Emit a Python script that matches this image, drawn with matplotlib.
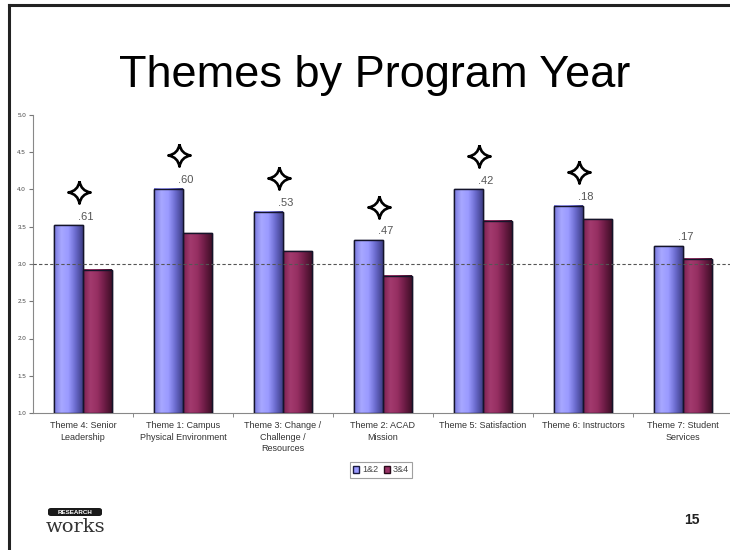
import numpy as np
import matplotlib
matplotlib.use('Agg')
import matplotlib.pyplot as plt
from matplotlib.path import Path
from matplotlib.patches import FancyBboxPatch
from matplotlib.colors import LinearSegmentedColormap

plt.rcParams['font.family'] = ['Liberation Sans', 'DejaVu Sans']

# data
themes = ['Theme 4: Senior\nLeadership', 'Theme 1: Campus\nPhysical Environment',
          'Theme 3: Change /\nChallenge /\nResources', 'Theme 2: ACAD\nMission',
          'Theme 5: Satisfaction', 'Theme 6: Instructors', 'Theme 7: Student\nServices']
year_12 = [3.52, 4.01, 3.70, 3.32, 4.00, 3.78, 3.24]
year_34 = [2.92, 3.41, 3.17, 2.84, 3.58, 3.60, 3.07]
effect = ['.61', '.60', '.53', '.47', '.42', '.18', '.17']
significant = [True, True, True, True, True, True, False]
series_names = ['1&2', '3&4']
yticks = [1.0, 1.5, 2.0, 2.5, 3.0, 3.5, 4.0, 4.5, 5.0]

W, H = 730, 550
fig = plt.figure(figsize=(W / 100, H / 100), dpi=100)

# slide frame (top and left edges)
fig.add_artist(plt.Line2D([9 / W, 1], [1 - 5 / H, 1 - 5 / H], color='#222222', lw=2.2))
fig.add_artist(plt.Line2D([9 / W, 9 / W], [0, 1 - 5 / H], color='#222222', lw=2.2))

fig.text(375 / W, 1 - 75 / H, 'Themes by Program Year', ha='center', va='center',
         fontsize=32.5, color='black')

ax = fig.add_axes([33 / W, (H - 413) / H, 697 / W, 298 / H])
x = np.arange(len(themes))
bw = 0.29
b1 = ax.bar(x - bw / 2, year_12, bw, bottom=0, color='#9999ff', edgecolor='#1a1a40', lw=1, zorder=3)
b2 = ax.bar(x + bw / 2, year_34, bw, bottom=0, color='#993366', edgecolor='#2a0a1a', lw=1, zorder=3)

# shaded "cylinder" look like the old Excel fills
cm_blue = LinearSegmentedColormap.from_list('b', ['#7777dd', '#a8a8ff', '#9a9aff', '#6a6acc', '#3f3f88'])
cm_red = LinearSegmentedColormap.from_list('r', ['#7a2050', '#a33a6e', '#962f62', '#6e1c46', '#401028'])
grad = np.linspace(0, 1, 64).reshape(1, -1)
for bars, cm in ((b1, cm_blue), (b2, cm_red)):
    for p in bars:
        x0, w, h = p.get_x(), p.get_width(), p.get_height()
        ax.imshow(grad, cmap=cm, aspect='auto', extent=(x0, x0 + w, 1.0, h), zorder=3.5)
        ax.add_patch(plt.Rectangle((x0, 1.0), w, h - 1.0, fill=False, ec='#14142a', lw=1, zorder=4))

ax.axhline(3.0, color='#555555', lw=0.8, ls=(0, (3, 2)), zorder=5)

# four pointed star marker
verts = [(0, 1), (0.14, 0.14), (1, 0), (0.14, -0.14), (0, -1), (-0.14, -0.14), (-1, 0), (-0.14, 0.14), (0, 1)]
codes = [Path.MOVETO] + [Path.CURVE3, Path.CURVE3] * 4
star = Path(verts, codes)

for i, (v, lab, sig) in enumerate(zip(year_12, effect, significant)):
    ax.text(x[i] - bw / 2 + 0.17, v + 0.05, lab, ha='center', va='bottom', fontsize=8, color='#555555', zorder=6)
    if sig:
        ax.plot(x[i] - bw / 2 + 0.1, v + 0.45, marker=star, ms=16, mfc='white', mec='black', mew=1.9, zorder=6)

ax.set_xlim(-0.5, 6.47)
ax.set_ylim(1.0, 5.0)
ax.set_yticks(yticks)
ax.set_yticklabels([f'{t:.1f}' for t in yticks], fontsize=4.5, color='#444444')
ax.set_xticks(x)
ax.set_xticklabels(themes, fontsize=6.5, color='#333333', linespacing=1.35)
ax.set_xticks(np.arange(0.5, len(themes) - 1, 1), minor=True)
ax.tick_params(axis='x', which='major', length=0, pad=6)
ax.tick_params(axis='x', which='minor', length=3, color='#777777')
ax.tick_params(axis='y', length=3, color='#777777', pad=2)
for s in ('top', 'right'):
    ax.spines[s].set_visible(False)
ax.spines['left'].set_color('#888888')
ax.spines['bottom'].set_color('#888888')

leg = ax.legend([b1, b2], series_names, loc='center', bbox_to_anchor=(381 / W, 1 - 470 / H),
                bbox_transform=fig.transFigure, ncol=2, fontsize=6.5, frameon=True, fancybox=False,
                handlelength=0.7, handleheight=0.7, handletextpad=0.3, columnspacing=0.6,
                borderpad=0.35, edgecolor='#888888')
leg.get_frame().set_linewidth(0.8)
for t in leg.get_texts():
    t.set_color('#444444')

# logo
fig.add_artist(FancyBboxPatch((48 / W, 1 - 516 / H), 54 / W, 8 / H,
                              boxstyle='round,pad=0,rounding_size=0.004', fc='#1a1a1a', ec='none'))
fig.text(75 / W, 1 - 512 / H, 'RESEARCH', ha='center', va='center', fontsize=4.5,
         color='white', fontweight='bold')
fig.text(76 / W, 1 - 527 / H, 'works', ha='center', va='center', fontsize=14,
         family='DejaVu Serif', color='#333333')

fig.text(692 / W, 1 - 520 / H, '15', ha='center', va='center', fontsize=10,
         fontweight='bold', color='#222222')

fig.savefig('out.png', dpi=100)
